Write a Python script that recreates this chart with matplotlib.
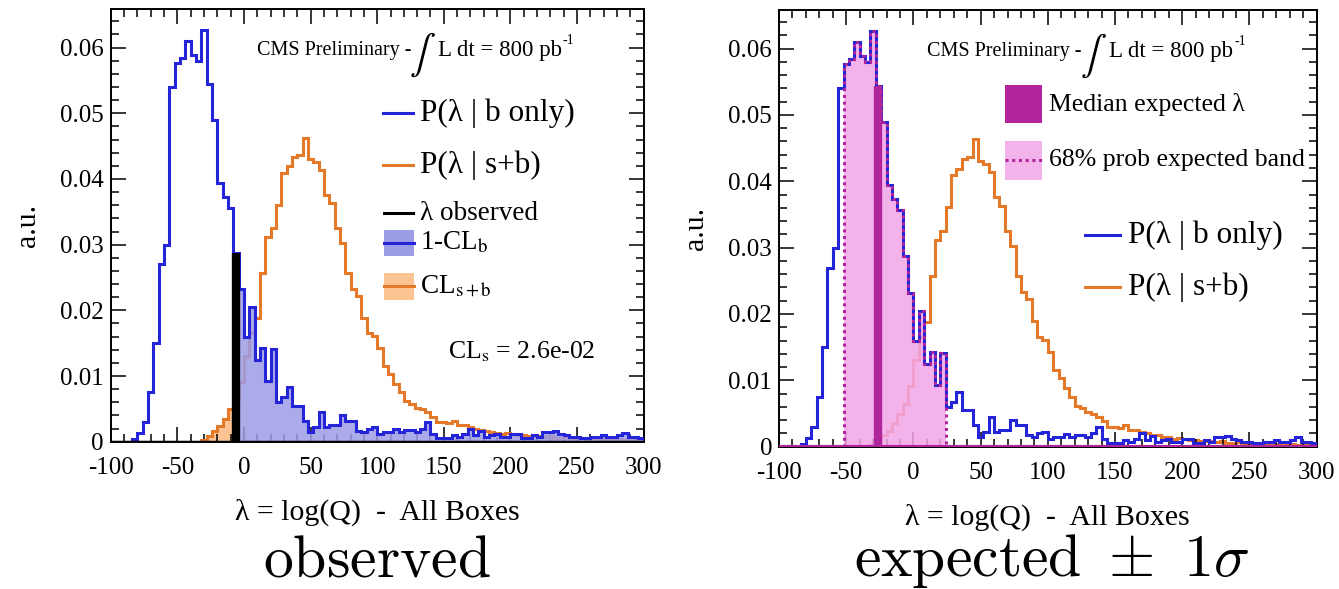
import numpy as np
import matplotlib
matplotlib.use("Agg")
import matplotlib.pyplot as plt
from matplotlib.patches import Rectangle
from matplotlib.ticker import MultipleLocator, FuncFormatter

plt.rcParams['font.family'] = ['Liberation Serif', 'DejaVu Serif']
plt.rcParams['axes.unicode_minus'] = False

# lambda histograms, 4-unit bins from -100 to 300
edges = np.arange(-100, 301, 4)

b_only = np.array([
    0, 0, 0, 0, 0.0004, 0.0013, 0.003, 0.0075, 0.015, 0.027,
    0.030, 0.054, 0.0576, 0.0584, 0.061, 0.0589, 0.0579, 0.0627, 0.0544, 0.049,
    0.0394, 0.0373, 0.0356, 0.0287, 0.0232, 0.016, 0.0205, 0.0125, 0.0143, 0.0093,
    0.0141, 0.006, 0.0068, 0.0083, 0.0055, 0.0055, 0.0032, 0.0015, 0.0022, 0.0045,
    0.0022, 0.0025, 0.0025, 0.004, 0.0032, 0.0032, 0.0017, 0.0015, 0.002, 0.0022,
    0.0012, 0.0015, 0.0015, 0.0019, 0.0015, 0.0018, 0.0018, 0.0015, 0.002, 0.003,
    0.0012, 0.0006, 0.0005, 0.0005, 0.001, 0.0007, 0.0012, 0.002, 0.001, 0.0016,
    0.0007, 0.001, 0.0012, 0.0007, 0.0007, 0.0012, 0.0012, 0.0006, 0.0005, 0.001,
    0.0007, 0.0015, 0.0015, 0.0016, 0.0012, 0.001, 0.0007, 0.0007, 0.0005, 0.0005,
    0.0007, 0.0007, 0.001, 0.0007, 0.0007, 0.001, 0.0014, 0.0007, 0.0007, 0.0005,
])

s_plus_b = np.array([
    0, 0, 0, 0, 0, 0, 0, 0, 0, 0,
    0, 0, 0, 0, 0, 0, 0, 0.0002, 0.0008, 0.0017,
    0.0024, 0.0035, 0.005, 0.0065, 0.0091, 0.013, 0.0165, 0.0188, 0.0257, 0.0312,
    0.0325, 0.0361, 0.0409, 0.0419, 0.0433, 0.0436, 0.0463, 0.0431, 0.0426, 0.0414,
    0.0376, 0.0363, 0.0325, 0.0303, 0.0257, 0.0233, 0.0222, 0.0189, 0.0166, 0.0161,
    0.0143, 0.0116, 0.0103, 0.0088, 0.0075, 0.0062, 0.0058, 0.0052, 0.005, 0.0045,
    0.0038, 0.003, 0.003, 0.0028, 0.0032, 0.0025, 0.0025, 0.0022, 0.002, 0.0018,
    0.0017, 0.0015, 0.0014, 0.0012, 0.0013, 0.0012, 0.001, 0.001, 0.0009, 0.0008,
    0.0009, 0.0007, 0.0008, 0.0006, 0.0006, 0.0007, 0.0005, 0.0005, 0.0006, 0.0004,
    0.0005, 0.0004, 0.0004, 0.0003, 0.0005, 0.0004, 0.0003, 0.0003, 0.0004, 0.0003,
])

lam_obs = -6.0
lam_median = -26.0
band_lo, band_hi = -52.0, 24.0
cls_value = 2.6e-02

BLUE = '#2424d8'
ORANGE = '#e4792a'
MAGENTA = '#b0259c'
BLUE_FILL = '#9c9ce6'
ORANGE_FILL = '#fcc493'
PINK_FILL = '#f3a5e8'


def clip_hist(vals, lo, hi):
    e = np.clip(edges, lo, hi)
    keep = e[1:] > e[:-1]
    return vals[keep], np.append(e[:-1][keep], e[1:][keep][-1])


def height_at(vals, x):
    i = np.searchsorted(edges, x, side='right') - 1
    return vals[i]


def style_axes(ax):
    ax.set_xlim(-100, 300)
    ax.set_ylim(0, 0.0658)
    ax.xaxis.set_major_locator(MultipleLocator(50))
    ax.xaxis.set_minor_locator(MultipleLocator(10))
    ax.yaxis.set_major_locator(MultipleLocator(0.01))
    ax.yaxis.set_minor_locator(MultipleLocator(0.002))
    ax.xaxis.set_major_formatter(FuncFormatter(lambda v, p: '%d' % v))
    ax.yaxis.set_major_formatter(FuncFormatter(lambda v, p: '0' if abs(v) < 1e-9 else '%g' % v))
    ax.tick_params(which='both', direction='in', top=True, right=True,
                   labelsize=18, width=1.1)
    ax.tick_params(which='major', length=11)
    ax.tick_params(axis='x', which='major', pad=11)
    ax.tick_params(axis='y', which='major', pad=5)
    ax.tick_params(which='minor', length=5.5)
    for s in ax.spines.values():
        s.set_linewidth(1.4)
    ax.set_xlabel('λ = log(Q)  -  All Boxes', fontsize=21.5, labelpad=14)
    ax.set_ylabel('a.u.', fontsize=21.5, labelpad=14)
    # luminosity label
    ax.text(0.5635, 0.905, 'CMS Preliminary -', transform=ax.transAxes,
            ha='right', va='center', fontsize=14.5)
    ax.text(0.584, 0.895, r'$\int$', transform=ax.transAxes, ha='center',
            va='center', fontsize=28, math_fontfamily='stix')
    ax.text(0.614, 0.905, 'L dt = 800 pb', transform=ax.transAxes,
            ha='left', va='center', fontsize=16.5)
    ax.text(0.847, 0.928, '-1', transform=ax.transAxes,
            ha='left', va='center', fontsize=10)


def legend_line(ax, y, color, x0, x1, text, size, ls='-', tx=None):
    ax.plot([x0, x1], [y, y], color=color, lw=2.2, ls=ls, transform=ax.transAxes, clip_on=False)
    ax.text(x1 + 0.013 if tx is None else tx, y, text, transform=ax.transAxes,
            va='center', ha='left', fontsize=size, math_fontfamily='stix')


fig = plt.figure(figsize=(13.39, 5.89), dpi=100)
ax1 = fig.add_axes([0.0827, 0.250, 0.398, 0.734])
ax2 = fig.add_axes([0.5818, 0.2416, 0.4015, 0.7414])

# ---- observed ----
ax = ax1
v, e = clip_hist(s_plus_b, -100, lam_obs)
ax.stairs(v, e, fill=True, color=ORANGE_FILL, zorder=1)
ax.stairs(s_plus_b, edges, color=ORANGE, lw=2.2, zorder=2)
v, e = clip_hist(b_only, lam_obs, 300)
ax.stairs(v, e, fill=True, color=BLUE_FILL, alpha=0.85, zorder=3)
ax.stairs(b_only, edges, color=BLUE, lw=2.2, zorder=4)
ax.vlines(lam_obs, 0, height_at(b_only, lam_obs), color='black', lw=6, zorder=5)
ax.axhline(0, color='black', lw=2.5, zorder=5)
style_axes(ax)

legend_line(ax, 0.760, BLUE, 0.5106, 0.567, 'P(λ | b only)', 22.5)
legend_line(ax, 0.640, ORANGE, 0.5106, 0.567, 'P(λ | s+b)', 22.5)
legend_line(ax, 0.529, 'black', 0.5125, 0.567, 'λ observed', 19.5)
for yc, fc, lc, txt in [(0.4595, BLUE_FILL, BLUE, r'1-CL$_{\mathrm{b}}$'),
                        (0.360, ORANGE_FILL, ORANGE, r'CL$_{\mathrm{s+b}}$')]:
    ax.add_patch(Rectangle((0.5125, yc - 0.031), 0.0565, 0.062, transform=ax.transAxes,
                           facecolor=fc, edgecolor='none', clip_on=False))
    legend_line(ax, yc, lc, 0.5125, 0.569, txt, 19.5, tx=0.580)
ax.text(0.771, 0.2075, r'CL$_{\mathrm{s}}$ = %.1e' % cls_value, transform=ax.transAxes,
        ha='center', va='center', fontsize=18.5, math_fontfamily='stix')

# ---- expected ----
ax = ax2
ax.stairs(s_plus_b, edges, color=ORANGE, lw=2.2, zorder=1)
v, e = clip_hist(b_only, band_lo, band_hi)
ax.stairs(v, e, fill=True, color=PINK_FILL, alpha=0.85, zorder=2)
ax.stairs(b_only, edges, color=BLUE, lw=2.2, zorder=3)
ax.stairs(v, e, color=MAGENTA, lw=2.2, ls=(0, (1, 1.2)), zorder=4)
ax.vlines(lam_median, 0, height_at(b_only, lam_median), color=MAGENTA, lw=6, zorder=5)
ax.axhline(0, color=MAGENTA, lw=3, zorder=5)
style_axes(ax)

ax.add_patch(Rectangle((0.4203, 0.741), 0.0687, 0.087, transform=ax.transAxes,
                       facecolor=MAGENTA, edgecolor='none', clip_on=False))
ax.text(0.502, 0.7825, 'Median expected λ', transform=ax.transAxes,
        va='center', ha='left', fontsize=18.5)
ax.add_patch(Rectangle((0.4203, 0.6103), 0.0687, 0.0897, transform=ax.transAxes,
                       facecolor=PINK_FILL, alpha=0.85, edgecolor='none', clip_on=False))
ax.plot([0.4203, 0.489], [0.6565, 0.6565], color=MAGENTA, lw=2.2, ls=(0, (1, 1.2)),
        transform=ax.transAxes, clip_on=False)
ax.text(0.502, 0.6565, '68% prob expected band', transform=ax.transAxes,
        va='center', ha='left', fontsize=18.5)
legend_line(ax, 0.4848, BLUE, 0.569, 0.634, 'P(λ | b only)', 22.5, tx=0.649)
legend_line(ax, 0.3658, ORANGE, 0.569, 0.634, 'P(λ | s+b)', 22.5, tx=0.649)

fig.text(0.2815, 0.022, r'$\mathrm{observed}$', ha='center', va='baseline',
         fontsize=43, math_fontfamily='cm')
fig.text(0.7855, 0.022, r'$\mathrm{expected}\ \pm\ 1\sigma$', ha='center', va='baseline',
         fontsize=43, math_fontfamily='cm')

fig.savefig('out.png', dpi=100)
